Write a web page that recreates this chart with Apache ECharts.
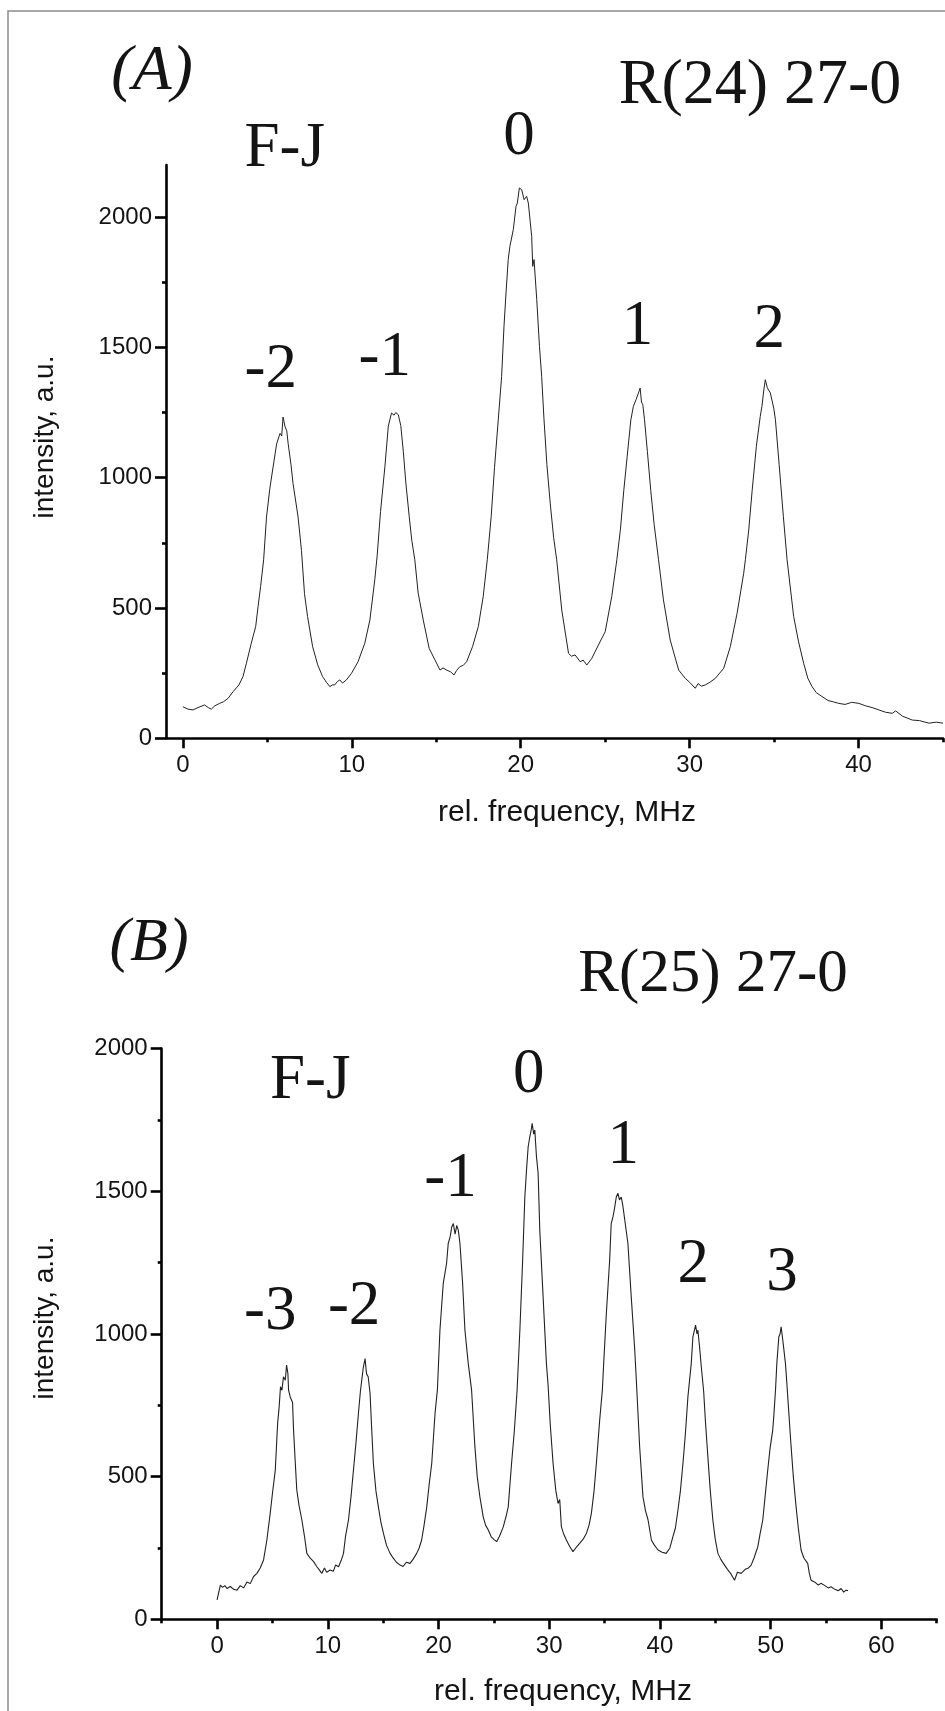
<!DOCTYPE html>
<html>
<head>
<meta charset="utf-8">
<style>
html,body{margin:0;padding:0;background:#fff;}
#chart{width:945px;height:1711px;}
</style>
<script src="https://cdn.jsdelivr.net/npm/echarts@6.0.0/dist/echarts.min.js"></script>
</head>
<body>
<div id="chart"></div>
<script>
// ---------- DATA ----------
// Panel (A): R(24) 27-0
const freqA = [0.0,0.3,0.6,0.9,1.28,1.5,1.68,1.9,2.17,2.4,2.67,2.97,3.32,3.56,3.76,4.05,4.31,4.45,4.6,4.78,4.95,5.15,5.34,5.55,5.75,5.85,5.93,6.05,6.15,6.23,6.4,6.52,6.82,7.02,7.2,7.38,7.68,7.98,8.27,8.5,8.7,8.85,8.99,9.15,9.29,9.45,9.68,9.98,10.37,10.77,11.07,11.36,11.5,11.7,11.96,12.16,12.35,12.5,12.6,12.75,12.9,13.05,13.2,13.4,13.55,13.73,13.93,14.23,14.58,14.92,15.22,15.4,15.61,15.85,16.05,16.2,16.4,16.6,16.8,17.15,17.49,17.78,18.02,18.25,18.45,18.67,18.87,19.01,19.13,19.26,19.36,19.56,19.72,19.8,19.92,20.06,20.2,20.35,20.45,20.65,20.71,20.79,20.95,21.11,21.24,21.38,21.55,21.75,21.95,22.13,22.43,22.83,23.0,23.22,23.52,23.7,23.91,24.21,24.6,25.0,25.39,25.69,25.9,26.1,26.3,26.52,26.67,26.83,26.97,27.07,27.15,27.23,27.33,27.5,27.7,27.9,28.16,28.45,28.85,29.35,29.74,30.0,30.33,30.5,30.7,30.93,31.2,31.52,32.02,32.41,32.81,33.2,33.3,33.5,33.7,33.95,34.18,34.28,34.4,34.48,34.6,34.68,34.78,34.98,35.08,35.3,35.55,35.77,36.16,36.45,36.75,37.0,37.25,37.5,37.84,38.2,38.5,38.83,39.2,39.6,40.02,40.4,40.8,41.2,41.6,41.99,42.2,42.6,43.18,43.6,44.17,44.6,45.0];
const intensityA = [121,112,109,118,128,118,112,125,134,140,153,179,205,237,288,365,429,505,582,685,849,960,1041,1130,1170,1160,1233,1195,1180,1132,1050,978,849,721,555,467,352,282,237,215,198,205,205,218,224,212,224,249,294,365,454,608,700,870,1043,1197,1248,1240,1250,1242,1200,1100,980,850,760,685,557,454,345,301,262,270,262,255,243,260,275,280,294,352,429,544,685,850,1040,1222,1389,1581,1709,1837,1888,1952,2041,2054,2112,2105,2067,2080,2054,1926,1811,1837,1683,1504,1389,1222,1050,900,770,685,492,326,315,320,294,300,281,307,358,409,544,685,800,950,1080,1222,1274,1300,1325,1344,1290,1280,1222,1100,950,820,685,531,377,262,230,215,192,210,200,205,215,230,269,352,480,633,685,800,950,1120,1235,1274,1340,1376,1345,1350,1325,1267,1222,1050,850,685,467,370,288,230,198,175,160,145,140,134,130,138,134,125,118,109,100,96,105,85,70,68,58,62,58];

// Panel (B): R(25) 27-0
const freqB = [0.0,0.1,0.3,0.5,0.7,0.9,1.2,1.5,1.8,2.1,2.4,2.7,3.0,3.3,3.6,3.9,4.2,4.5,4.8,5.0,5.26,5.47,5.6,5.73,5.86,6.0,6.16,6.28,6.4,6.46,6.6,6.82,6.91,7.05,7.2,7.4,7.66,7.9,8.11,8.4,8.72,9.0,9.2,9.47,9.7,9.9,10.22,10.5,10.7,10.97,11.2,11.42,11.6,11.87,12.1,12.32,12.55,12.77,12.95,13.07,13.2,13.37,13.5,13.65,13.82,13.95,14.12,14.35,14.57,14.8,15.03,15.3,15.63,15.9,16.2,16.53,16.8,17.1,17.43,17.7,18.03,18.25,18.48,18.7,18.94,19.15,19.39,19.55,19.69,19.9,20.13,20.43,20.73,20.88,21.05,21.2,21.34,21.5,21.65,21.79,21.94,22.18,22.39,22.69,22.99,23.29,23.5,23.74,24.04,24.25,24.5,24.75,25.0,25.25,25.5,25.85,26.1,26.3,26.6,26.85,27.1,27.35,27.59,27.8,27.95,28.1,28.25,28.4,28.46,28.6,28.7,28.85,29.0,29.15,29.45,29.75,29.9,30.1,30.35,30.6,30.8,30.95,31.1,31.3,31.55,31.85,32.15,32.4,32.75,33.05,33.36,33.6,33.81,34.05,34.26,34.56,34.8,34.92,35.16,35.46,35.6,35.76,35.9,36.06,36.21,36.35,36.51,36.65,36.81,37.11,37.41,37.71,37.87,38.17,38.47,38.7,38.93,39.23,39.5,39.83,40.2,40.57,40.9,41.17,41.4,41.63,41.85,42.08,42.3,42.53,42.68,42.83,42.98,43.1,43.22,43.35,43.43,43.58,43.75,43.95,44.1,44.33,44.55,44.78,45.0,45.24,45.5,45.84,46.1,46.4,46.74,47.0,47.34,47.7,48.0,48.24,48.5,48.84,49.05,49.29,49.5,49.74,49.95,50.19,50.3,50.44,50.56,50.74,50.85,50.95,51.1,51.34,51.46,51.65,51.85,52.05,52.3,52.5,52.75,53.0,53.35,53.5,53.65,54.0,54.3,54.55,54.9,55.2,55.45,55.8,56.1,56.36,56.6,56.81,57.0];
const intensityB = [68,75,120,112,118,108,115,105,102,118,110,131,125,150,161,180,208,278,371,440,523,686,740,815,803,850,838,891,860,803,780,760,663,560,453,400,348,290,231,215,202,185,175,161,180,165,173,168,190,184,205,231,290,348,430,523,620,722,800,838,880,914,860,850,792,680,546,450,394,340,301,260,231,215,200,190,185,200,196,210,231,250,278,330,394,470,546,640,722,803,1013,1177,1247,1317,1340,1375,1387,1350,1380,1363,1317,1177,1013,896,803,605,500,429,359,330,313,290,280,272,290,324,360,394,546,660,803,1013,1247,1480,1574,1656,1691,1720,1738,1700,1715,1621,1563,1363,1130,896,820,680,546,450,406,420,324,300,278,255,237,250,266,280,301,330,371,450,546,698,803,896,1071,1258,1387,1410,1440,1480,1493,1470,1480,1450,1445,1317,1130,955,838,605,429,380,348,278,260,243,235,231,250,289,320,383,450,546,650,780,838,896,990,1010,1031,1000,1013,955,880,800,700,570,450,348,280,231,210,190,175,160,137,165,161,175,180,190,215,254,300,348,430,523,600,663,720,803,896,990,1000,1025,978,896,830,720,605,500,394,320,243,215,196,160,137,130,120,126,118,110,114,105,100,108,95,102,100];

// Tick values and texts
const xMajorA = [0,10,20,30,40];
const xMinorA = [5,15,25,35,45];
const xMajorB = [0,10,20,30,40,50,60];
const xMinorB = [-5,5,15,25,35,45,55,65];
const yMajor = [0,500,1000,1500,2000];
const yMinor = [250,750,1250,1750];

const peakNamesA = ['-2','-1','0','1','2'];
const peakNamesB = ['-3','-2','-1','0','1','2','3'];
const titleA = 'R(24) 27-0';
const titleB = 'R(25) 27-0';
const panelA = '(A)';
const panelB = '(B)';
const xTitle = 'rel. frequency, MHz';
const yTitle = 'intensity, a.u.';
const fjText = 'F-J';

// ---------- LAYOUT (annotation anchors in data coordinates) ----------
const peakAnchorsA = [[5.2,1410],[11.95,1458],[19.9,2305],[26.92,1577],[34.72,1565]];
const peakAnchorsB = [[4.81,1076],[12.38,1092],[21.08,1543],[28.16,1907],[36.68,1657],[43.0,1241],[51.02,1212]];
const fjAnchorA = [6.03,2258];
const fjAnchorB = [8.41,1885];

const SANS = '"Liberation Sans", Arial, Helvetica, sans-serif';
const SERIF = '"Liberation Serif", "Times New Roman", Times, serif';
const INK = '#141414';
const AXIS_W = 2.6;

function zip(xs, ys){ return xs.map((x,i)=>[x, ys[i]]); }
const plain = v => String(Math.round(v));

function xAxes(grid, min, max, major, minor){
  return [
    {gridIndex:grid, type:'value', min:min, max:max, position:'bottom', offset:0,
     axisLine:{show:true, onZero:false, lineStyle:{color:'#000', width:AXIS_W}},
     axisTick:{show:true, customValues:major, length:10, inside:false, lineStyle:{color:'#000', width:AXIS_W}},
     axisLabel:{show:true, customValues:major, formatter:plain, margin:15, fontSize:24, fontFamily:SANS, color:INK},
     splitLine:{show:false}},
    {gridIndex:grid, type:'value', min:min, max:max, position:'bottom', offset:0,
     axisLine:{show:false, onZero:false},
     axisTick:{show:true, customValues:minor, length:4, lineStyle:{color:'#000', width:AXIS_W}},
     axisLabel:{show:false},
     splitLine:{show:false}}
  ];
}
function yAxes(grid, min, max){
  return [
    {gridIndex:grid, type:'value', min:min, max:max, position:'left', offset:0,
     axisLine:{show:true, onZero:false, lineStyle:{color:'#000', width:AXIS_W}},
     axisTick:{show:true, customValues:yMajor, length:11, lineStyle:{color:'#000', width:AXIS_W}},
     axisLabel:{show:true, customValues:yMajor, formatter:plain, margin:14, fontSize:24, fontFamily:SANS, color:INK},
     splitLine:{show:false}},
    {gridIndex:grid, type:'value', min:min, max:max, position:'left', offset:0,
     axisLine:{show:false, onZero:false},
     axisTick:{show:true, customValues:yMinor, length:4, lineStyle:{color:'#000', width:AXIS_W}},
     axisLabel:{show:false},
     splitLine:{show:false}}
  ];
}
function labelSeries(xi, yi, anchors, names, extra){
  const data = anchors.map((a,i)=>({value:a, name:names[i]}));
  if (extra) data.push(extra);
  return {
    type:'scatter', xAxisIndex:xi, yAxisIndex:yi, clip:false, silent:true,
    symbolSize:0, itemStyle:{color:'#000'},
    label:{show:true, position:'inside', formatter:'{b}', fontFamily:SERIF, fontSize:63,
           color:INK, textBorderWidth:0, opacity:1},
    emphasis:{disabled:true},
    data:data, z:5
  };
}

const chart = echarts.init(document.getElementById('chart'), null, {renderer:'canvas', width:945, height:1711});
const option = {
  animation:false,
  backgroundColor:'#fff',
  grid:[
    {left:166, right:2, top:165, bottom:972.7, containLabel:false},
    {left:161.7, right:8.3, top:1048.6, bottom:91.7, containLabel:false}
  ],
  xAxis: xAxes(0,-1,45,xMajorA,xMinorA).concat(xAxes(1,-5,65,xMajorB,xMinorB)),
  yAxis: yAxes(0,0,2200).concat(yAxes(1,0,2000)),
  series:[
    {type:'line', xAxisIndex:0, yAxisIndex:0, data:zip(freqA,intensityA), showSymbol:false, symbol:'none',
     lineStyle:{color:'#222', width:1}, z:3},
    {type:'line', xAxisIndex:2, yAxisIndex:2, data:zip(freqB,intensityB), showSymbol:false, symbol:'none',
     lineStyle:{color:'#222', width:1.1}, z:3},
    labelSeries(0,0,peakAnchorsA,peakNamesA,{value:fjAnchorA, name:fjText}),
    labelSeries(2,2,peakAnchorsB,peakNamesB,{value:fjAnchorB, name:fjText})
  ],
  graphic:[
    {type:'rect', silent:true, z:-10, shape:{x:8, y:11, width:1000, height:1800},
     style:{fill:'none', stroke:'#8c8c8c', lineWidth:1.5}},
    {type:'text', x:152, y:72, style:{text:panelA, fontFamily:SERIF, fontStyle:'italic', fontSize:64, fill:INK, align:'center', verticalAlign:'middle'}},
    {type:'text', x:760, y:86, style:{text:titleA, fontFamily:SERIF, fontSize:64, fill:INK, align:'center', verticalAlign:'middle'}},
    {type:'text', x:149, y:944, style:{text:panelB, fontFamily:SERIF, fontStyle:'italic', fontSize:62, fill:INK, align:'center', verticalAlign:'middle'}},
    {type:'text', x:713, y:975, style:{text:titleB, fontFamily:SERIF, fontSize:61, fill:INK, align:'center', verticalAlign:'middle'}},
    {type:'text', x:567, y:813, style:{text:xTitle, fontFamily:SANS, fontSize:30, fill:INK, align:'center', verticalAlign:'middle'}},
    {type:'text', x:563, y:1692, style:{text:xTitle, fontFamily:SANS, fontSize:30, fill:INK, align:'center', verticalAlign:'middle'}},
    {type:'text', x:45, y:437, rotation:Math.PI/2, style:{text:yTitle, fontFamily:SANS, fontSize:28, fill:INK, align:'center', verticalAlign:'middle'}},
    {type:'text', x:45, y:1318, rotation:Math.PI/2, style:{text:yTitle, fontFamily:SANS, fontSize:28, fill:INK, align:'center', verticalAlign:'middle'}}
  ]
};
chart.setOption(option);
</script>
</body>
</html>
